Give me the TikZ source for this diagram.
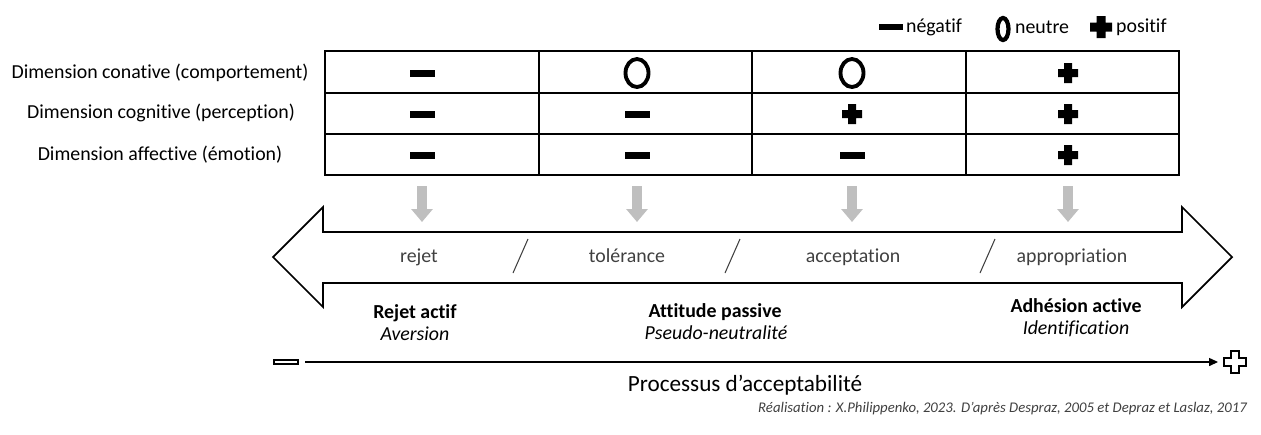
\documentclass[tikz,border=0pt]{standalone}
\usepackage{fontspec}
\setmainfont[Ligatures=NoCommon]{Carlito}
\usetikzlibrary{arrows.meta}
\definecolor{grisfleche}{rgb}{0.75,0.75,0.75}
\definecolor{grisfonce}{rgb}{0.25,0.25,0.25}
\newcommand{\croix}[5][]{%
  \path[#1] (#2-#5,#3-#4) -- (#2+#5,#3-#4) -- (#2+#5,#3-#5) -- (#2+#4,#3-#5)
    -- (#2+#4,#3+#5) -- (#2+#5,#3+#5) -- (#2+#5,#3+#4) -- (#2-#5,#3+#4)
    -- (#2-#5,#3+#5) -- (#2-#4,#3+#5) -- (#2-#4,#3-#5) -- (#2-#5,#3-#5) -- cycle;}

\begin{document}
\begin{tikzpicture}[x=0.02cm,y=-0.02cm,
    lab/.style={font=\fontsize{11.3}{13}\selectfont,text height=1.6ex,text depth=0.4ex},
    labgris/.style={lab,text=grisfonce},
    fleche grise/.style={grisfleche,line width=0.2cm,-{Triangle[width=0.42cm,length=0.26cm]}}]
\useasboundingbox (0,0) rectangle (1261,434);
% legende
\fill (879,24) rectangle (903,30);
\node[lab,anchor=west,inner sep=1pt] (leg1) at (904,27) {négatif};
\draw[line width=2.4pt] (1003,29) ellipse [x radius=0.11cm, y radius=0.22cm];
\node[lab,anchor=west,inner sep=1pt] (leg2) at (1013,28) {neutre};
\croix[fill]{1101}{27}{11}{4.5}
\node[lab,anchor=west,inner sep=1pt] (leg3) at (1114,27) {positif};
% tableau
\node[lab] (dim1) at (160,73) {Dimension conative (comportement)};
\node[lab] (dim2) at (161,113) {Dimension cognitive (perception)};
\node[lab] (dim3) at (160,155) {Dimension affective (émotion)};
\draw[line width=0.8pt] (325,51) rectangle (1179,175);
\foreach \y in {93,134}
    \draw[line width=0.8pt] (325,\y) -- (1179,\y);
\foreach \x in {539,752,966}
    \draw[line width=0.8pt] (\x,51) -- (\x,175);
\foreach \x/\y in {422/73, 422/114, 422/155, 637/114, 637/155, 852/155}
    \fill (\x-12.5,\y-3.5) rectangle (\x+12.5,\y+3.5);
\foreach \x/\y in {637/73, 852/73}
    \draw[line width=2.2pt] (\x,\y) ellipse [x radius=0.23cm, y radius=0.28cm];
\foreach \x/\y in {852/114, 1068/73, 1068/114, 1068/155}
    \croix[fill]{\x}{\y}{10}{4};
% fleches grises
\foreach \x [count=\i] in {422,637,852,1068} {
    \coordinate (haut\i) at (\x,186);
    \coordinate (bas\i) at (\x,222);
    \draw[fleche grise] (haut\i) -- (bas\i);
}
% double fleche
\draw[line width=1pt,line join=miter] (323,232) -- (1182,232) -- (1182,207) -- (1232,257)
    -- (1182,307) -- (1182,283) -- (323,283) -- (323,307) -- (273,257) -- (323,207) -- cycle;
\node[labgris] (rejet) at (419,257) {rejet};
\node[labgris] (tol) at (627,257) {tolérance};
\node[labgris] (acc) at (853,257) {acceptation};
\node[labgris] (app) at (1072,257) {appropriation};
\foreach \x in {513,725,980}
    \draw[grisfonce,line width=0.6pt] (\x,273) -- (\x+15,239);
% attitudes
\node[lab,font=\fontsize{11.3}{13}\selectfont\bfseries] (att1) at (415,313) {Rejet actif};
\node[lab,font=\fontsize{11.3}{13}\selectfont\itshape] (att1b) at (415,335) {Aversion};
\node[lab,font=\fontsize{11.3}{13}\selectfont\bfseries] (att2) at (715,312) {Attitude passive};
\node[lab,font=\fontsize{11.3}{13}\selectfont\itshape] (att2b) at (716,334) {Pseudo-neutralité};
\node[lab,font=\fontsize{11.3}{13}\selectfont\bfseries] (att3) at (1076,307) {Adhésion active};
\node[lab,font=\fontsize{11.3}{13}\selectfont\itshape] (att3b) at (1076,329) {Identification};
% axe
\node[draw,line width=1.2pt,minimum width=0.48cm,minimum height=0.09cm,inner sep=0pt] (axmoins) at (286,362) {};
\coordinate (axplus) at (1235,362);
\croix[draw,line width=1.2pt]{1235}{362}{11}{4}
\draw[line width=0.6pt,-{Triangle[length=5pt,width=4.5pt]}] ([xshift=0.12cm]axmoins.east) -- ([xshift=-0.34cm]axplus);
\node[font=\fontsize{13.2}{15}\selectfont] (titre) at (745,385) {Processus d’acceptabilité};
\node[anchor=east,font=\fontsize{8.4}{10}\selectfont\itshape,text=grisfonce] (source) at (1253,409)
    {Réalisation : X.Philippenko, 2023. D’après Despraz, 2005 et Depraz et Laslaz, 2017};
\end{tikzpicture}
\end{document}
